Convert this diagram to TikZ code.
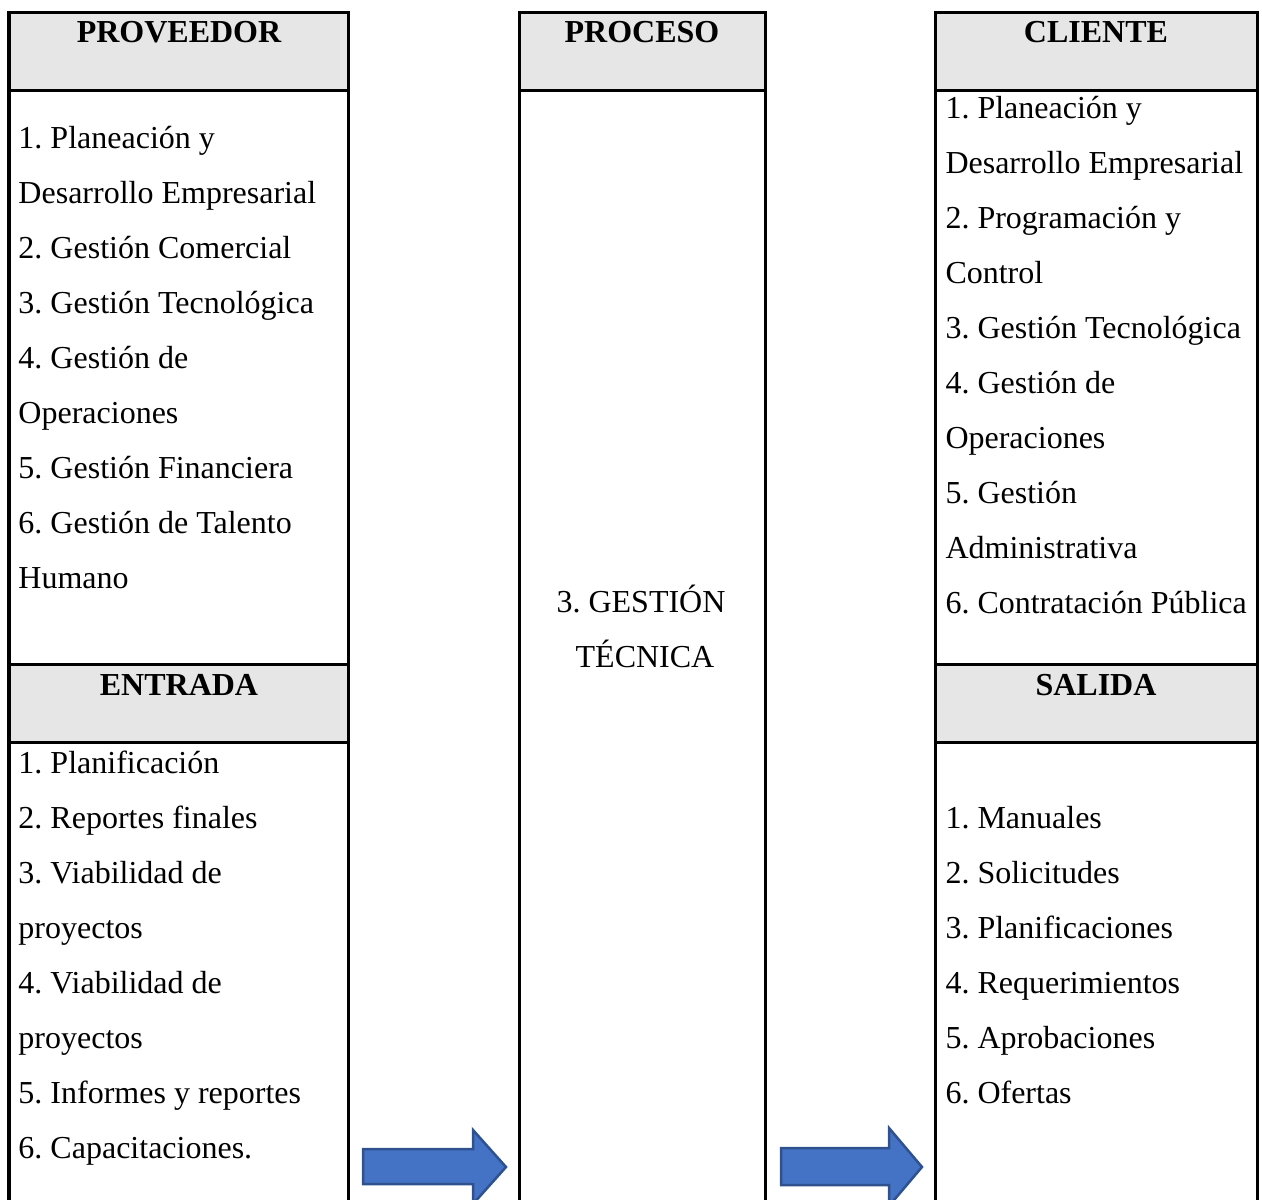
\documentclass[tikz,border=0pt]{standalone}
\usepackage{fontspec}
\setmainfont{Liberation Serif}
\frenchspacing
\definecolor{headgray}{HTML}{E6E6E6}
\definecolor{arrowfill}{HTML}{4472C4}
\definecolor{arrowedge}{HTML}{2F528F}
\begin{document}
\frenchspacing
\begin{tikzpicture}[x=0.4pt,y=-0.4pt,
  rule/.style={line width=1.2pt,line cap=rect},
  headcell/.style={fill=headgray},
  headtext/.style={font=\fontsize{12.8}{15}\selectfont\bfseries,anchor=base,inner sep=0pt},
  item/.style={font=\fontsize{12.8}{15}\selectfont,anchor=base west,inner sep=0pt},
  bigarrow/.style={fill=arrowfill,draw=arrowedge,line width=1pt,line join=miter}]
\useasboundingbox (0,0) rectangle (1262,1200);
\clip (0,0) rectangle (1262,1200);

% header shading
\fill[headcell] (9,12) rectangle (348,90);
\fill[headcell] (9,664) rectangle (348,742);
\fill[headcell] (519,12) rectangle (765,90);
\fill[headcell] (935,12) rectangle (1257,90);
\fill[headcell] (935,664) rectangle (1257,742);

% column frames (open at the bottom)
\draw[rule] (9,1210) -- (9,12) -- (348,12) -- (348,1210);
\draw[rule] (9,90) -- (348,90);
\draw[rule] (9,664) -- (348,664);
\draw[rule] (9,742) -- (348,742);

\draw[rule] (519,1210) -- (519,12) -- (765,12) -- (765,1210);
\draw[rule] (519,90) -- (765,90);

\draw[rule] (935,1210) -- (935,12) -- (1257,12) -- (1257,1210);
\draw[rule] (935,90) -- (1257,90);
\draw[rule] (935,664) -- (1257,664);
\draw[rule] (935,742) -- (1257,742);

% headings
\node[headtext] (hprov) at (179,42) {PROVEEDOR};
\node[headtext] (hproc) at (642,42) {PROCESO};
\node[headtext] (hcli) at (1096,42) {CLIENTE};
\node[headtext] (hent) at (179,695) {ENTRADA};
\node[headtext] (hsal) at (1096,695) {SALIDA};

% supplier list
\foreach \t [count=\i] in {1. Planeación y,Desarrollo Empresarial,2. Gestión Comercial,3. Gestión Tecnológica,4. Gestión de,Operaciones,5. Gestión Financiera,6. Gestión de Talento,Humano}
  \node[item] (prov\i) at (18,{148+55*(\i-1)}) {\t};

% inputs
\foreach \t [count=\i] in {1. Planificación,2. Reportes finales,3. Viabilidad de,proyectos,4. Viabilidad de,proyectos,5. Informes y reportes,6. Capacitaciones.}
  \node[item] (ent\i) at (18,{773+55*(\i-1)}) {\t};

% client list
\foreach \t [count=\i] in {1. Planeación y,Desarrollo Empresarial,2. Programación y,Control,3. Gestión Tecnológica,4. Gestión de,Operaciones,5. Gestión,Administrativa,6. Contratación Pública}
  \node[item] (cli\i) at (945,{118+55*(\i-1)}) {\t};

% outputs
\foreach \t [count=\i] in {1. Manuales,2. Solicitudes,3. Planificaciones,4. Requerimientos,5. Aprobaciones,6. Ofertas}
  \node[item] (sal\i) at (945,{828+55*(\i-1)}) {\t};

% process name
\node[item,anchor=base] (proc1) at (641,612) {3. GESTIÓN};
\node[item,anchor=base] (proc2) at (645,667) {TÉCNICA};

% block arrows
\draw[bigarrow] (363,1149) -- (473,1149) -- (473,1130) -- (506,1167) -- (473,1204) -- (473,1184) -- (363,1184) -- cycle;
\draw[bigarrow] (781,1148) -- (889,1148) -- (889,1128) -- (922,1167) -- (889,1206) -- (889,1185) -- (781,1185) -- cycle;
\end{tikzpicture}
\end{document}
